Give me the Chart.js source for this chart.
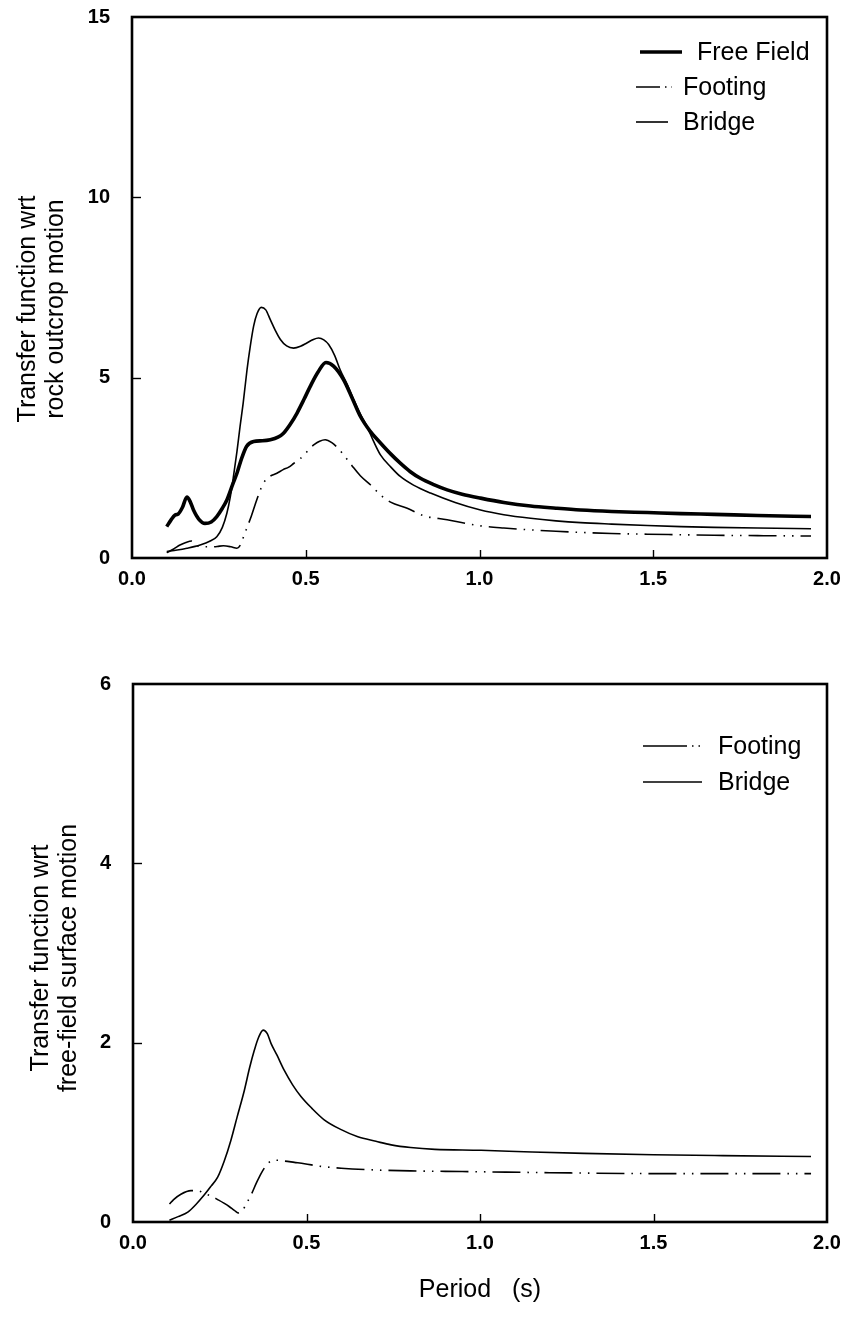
<!DOCTYPE html>
<html>
<head>
<meta charset="utf-8">
<script src="https://cdn.jsdelivr.net/npm/chart.js@4/dist/chart.umd.min.js"></script>
<style>
  html, body { margin: 0; padding: 0; background: #fff; }
  body { width: 845px; height: 1320px; position: relative; overflow: hidden; }
  .panel { position: absolute; left: 0; }
  #top { top: 0; }
  #bottom { top: 640px; }
</style>
</head>
<body>
<canvas id="top" class="panel" width="845" height="620"></canvas>
<canvas id="bottom" class="panel" width="845" height="680"></canvas>
<script>
// ---- Transfer function wrt rock outcrop motion ----
const freeFieldPeriod = [0.100,0.112,0.124,0.133,0.145,0.158,0.168,0.177,0.192,0.210,0.228,0.244,0.260,0.273,0.290,0.302,0.315,0.330,0.350,0.375,0.398,0.420,0.436,0.455,0.475,0.495,0.513,0.535,0.558,0.580,0.609,0.635,0.657,0.685,0.715,0.745,0.772,0.800,0.830,0.870,0.907,0.950,1.003,1.070,1.147,1.220,1.291,1.380,1.483,1.580,1.675,1.800,1.954];
const freeFieldRock   = [0.87,1.05,1.19,1.22,1.40,1.69,1.55,1.33,1.08,0.96,1.00,1.15,1.38,1.61,2.05,2.35,2.75,3.10,3.23,3.25,3.28,3.35,3.46,3.70,4.02,4.40,4.76,5.15,5.42,5.32,4.94,4.40,3.93,3.52,3.19,2.88,2.63,2.40,2.21,2.03,1.89,1.77,1.66,1.54,1.44,1.38,1.33,1.29,1.26,1.23,1.21,1.18,1.15];

const footingRockPeriod = [0.100,0.120,0.138,0.155,0.172,0.186,0.205,0.225,0.245,0.263,0.285,0.302,0.313,0.321,0.332,0.343,0.354,0.366,0.378,0.395,0.417,0.435,0.451,0.465,0.479,0.495,0.508,0.525,0.540,0.556,0.575,0.592,0.609,0.633,0.657,0.686,0.715,0.744,0.792,0.840,0.907,0.960,1.003,1.070,1.147,1.220,1.291,1.380,1.483,1.580,1.675,1.800,1.954];
const footingRock       = [0.15,0.25,0.36,0.43,0.47,0.35,0.31,0.31,0.32,0.34,0.31,0.27,0.38,0.59,0.87,1.15,1.47,1.80,2.07,2.25,2.35,2.45,2.52,2.62,2.72,2.85,3.00,3.15,3.24,3.28,3.20,3.05,2.86,2.56,2.28,2.03,1.75,1.55,1.38,1.17,1.06,0.96,0.89,0.83,0.78,0.74,0.71,0.68,0.66,0.645,0.63,0.62,0.61];

const bridgeRockPeriod = [0.100,0.130,0.158,0.196,0.225,0.244,0.260,0.273,0.283,0.292,0.302,0.311,0.320,0.331,0.340,0.350,0.360,0.372,0.385,0.398,0.412,0.427,0.445,0.465,0.485,0.503,0.520,0.537,0.552,0.566,0.583,0.599,0.620,0.638,0.657,0.676,0.695,0.715,0.745,0.772,0.810,0.859,0.930,1.003,1.070,1.147,1.220,1.291,1.380,1.483,1.580,1.675,1.800,1.954];
const bridgeRock       = [0.18,0.22,0.27,0.36,0.47,0.59,0.85,1.24,1.70,2.26,2.95,3.65,4.30,5.22,5.85,6.43,6.78,6.95,6.88,6.61,6.32,6.06,5.88,5.82,5.87,5.96,6.05,6.10,6.05,5.92,5.62,5.22,4.80,4.39,4.00,3.65,3.24,2.86,2.52,2.26,2.02,1.80,1.54,1.33,1.20,1.10,1.03,0.98,0.94,0.90,0.87,0.85,0.83,0.81];

// ---- Transfer function wrt free-field surface motion ----
const footingSurfacePeriod = [0.105,0.117,0.138,0.167,0.186,0.205,0.225,0.244,0.262,0.278,0.292,0.305,0.316,0.326,0.340,0.355,0.369,0.388,0.407,0.436,0.465,0.494,0.542,0.600,0.700,0.800,0.900,1.003,1.200,1.500,1.700,1.954];
const footingSurface       = [0.20,0.25,0.31,0.35,0.35,0.32,0.29,0.25,0.21,0.17,0.13,0.10,0.13,0.20,0.30,0.43,0.54,0.65,0.69,0.68,0.665,0.65,0.62,0.60,0.58,0.57,0.565,0.56,0.55,0.54,0.54,0.54];

const bridgeSurfacePeriod = [0.105,0.130,0.158,0.180,0.205,0.225,0.244,0.263,0.282,0.300,0.321,0.336,0.350,0.362,0.375,0.387,0.398,0.415,0.436,0.460,0.484,0.515,0.551,0.600,0.648,0.700,0.744,0.800,0.870,1.003,1.150,1.300,1.500,1.700,1.954];
const bridgeSurface       = [0.02,0.06,0.11,0.19,0.30,0.40,0.50,0.68,0.91,1.17,1.47,1.72,1.92,2.06,2.14,2.10,1.99,1.86,1.69,1.53,1.40,1.27,1.14,1.03,0.95,0.90,0.86,0.83,0.81,0.80,0.78,0.765,0.75,0.74,0.73];

// axis tick values
const periodTicks = [0.0, 0.5, 1.0, 1.5, 2.0];
const rockTicks = [0, 5, 10, 15];
const surfaceTicks = [0, 2, 4, 6];

const FONT = '"Liberation Sans", Arial, Helvetica, sans-serif';
const TEXT_SIZE = 25;
const TICK_SIZE = 20;
const DASH_DOT_DOT = [28, 7, 1.5, 7, 1.5, 7];

const pts = (xs, ys) => xs.map((x, i) => ({ x, y: ys[i] }));

function series(label, xs, ys, width, dash) {
  return {
    label, data: pts(xs, ys),
    borderColor: '#000', backgroundColor: '#000',
    borderWidth: width, borderDash: dash || [],
    pointRadius: 0, showLine: true, fill: false,
    cubicInterpolationMode: 'monotone', borderCapStyle: 'butt', borderJoinStyle: 'round'
  };
}

// frame, inward tick marks, rotated axis titles, legend
const decorations = {
  id: 'decorations',
  afterDraw(chart, args, o) {
    const { ctx, chartArea: a, scales: { x, y } } = chart;
    ctx.save();
    ctx.strokeStyle = '#000';
    ctx.fillStyle = '#000';
    ctx.setLineDash([]);
    ctx.lineWidth = 2.6;
    ctx.strokeRect(a.left, a.top, a.right - a.left, a.bottom - a.top);

    ctx.lineWidth = 1.4;
    x.ticks.forEach(t => {
      if (t.value <= x.min || t.value >= x.max) return;
      const px = Math.round(x.getPixelForValue(t.value)) + 0.5;
      ctx.beginPath(); ctx.moveTo(px, a.bottom); ctx.lineTo(px, a.bottom - 8); ctx.stroke();
    });
    y.ticks.forEach(t => {
      if (t.value <= y.min || t.value >= y.max) return;
      const py = Math.round(y.getPixelForValue(t.value)) + 0.5;
      ctx.beginPath(); ctx.moveTo(a.left, py); ctx.lineTo(a.left + 9, py); ctx.stroke();
    });

    ctx.font = TEXT_SIZE + 'px ' + FONT;
    ctx.textAlign = 'center';
    ctx.textBaseline = 'middle';
    o.yTitle.forEach((line, i) => {
      ctx.save();
      ctx.translate(o.yTitleX[i], o.yTitleY);
      ctx.rotate(-Math.PI / 2);
      ctx.fillText(line, 0, 0);
      ctx.restore();
    });
    if (o.xTitle) ctx.fillText(o.xTitle.text, o.xTitle.x, o.xTitle.y);

    ctx.textAlign = 'left';
    o.legend.forEach(item => {
      const ds = chart.data.datasets[item.dataset];
      ctx.lineWidth = ds.borderWidth;
      ctx.setLineDash(item.dash || ds.borderDash || []);
      ctx.beginPath(); ctx.moveTo(item.x1, item.y); ctx.lineTo(item.x2, item.y); ctx.stroke();
      ctx.setLineDash([]);
      ctx.fillText(ds.label, item.tx, item.y + 1);
    });
    ctx.restore();
  }
};

// the frame is placed by the layout padding and fixed axis sizes alone
function clearScalePadding(s) {
  s.paddingTop = 0; s.paddingBottom = 0; s.paddingLeft = 0; s.paddingRight = 0;
}

function makeChart(id, datasets, yMax, yTicksList, layout, deco) {
  return new Chart(document.getElementById(id), {
    type: 'scatter',
    data: { datasets },
    plugins: [decorations],
    options: {
      responsive: false, animation: false, events: [],
      layout: { padding: layout.padding },
      plugins: { legend: { display: false }, tooltip: { enabled: false }, decorations: deco },
      scales: {
        x: {
          type: 'linear', min: periodTicks[0], max: periodTicks[periodTicks.length - 1],
          afterBuildTicks: s => { s.ticks = periodTicks.map(v => ({ value: v })); },
          afterFit: s => { s.height = layout.xHeight; clearScalePadding(s); },
          grid: { display: false }, border: { display: false },
          ticks: { color: '#000', padding: 1, maxRotation: 0, autoSkip: false,
                   font: { family: FONT, size: TICK_SIZE, weight: 'bold' },
                   callback: v => Number(v).toFixed(1) }
        },
        y: {
          type: 'linear', min: 0, max: yMax,
          afterBuildTicks: s => { s.ticks = yTicksList.map(v => ({ value: v })); },
          afterFit: s => { s.width = layout.yWidth; clearScalePadding(s); },
          grid: { display: false }, border: { display: false },
          ticks: { color: '#000', padding: 14, autoSkip: false,
                   font: { family: FONT, size: TICK_SIZE, weight: 'bold' },
                   callback: v => String(v) }
        }
      }
    }
  });
}

makeChart('top', [
  series('Free Field', freeFieldPeriod, freeFieldRock, 3.6),
  series('Footing', footingRockPeriod, footingRock, 1.6, DASH_DOT_DOT),
  series('Bridge', bridgeRockPeriod, bridgeRock, 1.6)
], 15, rockTicks,
{ padding: { top: 17, right: 18, left: 0, bottom: 0 }, xHeight: 62, yWidth: 132 },
{
  yTitle: ['Transfer function wrt', 'rock outcrop motion'], yTitleX: [28, 56], yTitleY: 309,
  legend: [
    { dataset: 0, x1: 640, x2: 682, y: 52, tx: 697 },
    { dataset: 1, x1: 636, x2: 672, y: 87, tx: 683, dash: [24, 5, 1.5, 5, 1.5, 40] },
    { dataset: 2, x1: 636, x2: 668, y: 122, tx: 683 }
  ]
});

makeChart('bottom', [
  series('Footing', footingSurfacePeriod, footingSurface, 1.6, DASH_DOT_DOT),
  series('Bridge', bridgeSurfacePeriod, bridgeSurface, 1.6)
], 6, surfaceTicks,
{ padding: { top: 44, right: 18, left: 0, bottom: 0 }, xHeight: 98, yWidth: 133 },
{
  yTitle: ['Transfer function wrt', 'free-field surface motion'], yTitleX: [41, 69], yTitleY: 318,
  xTitle: { text: 'Period   (s)', x: 480, y: 650 },
  legend: [
    { dataset: 0, x1: 643, x2: 702, y: 106, tx: 718, dash: [44, 5, 1.5, 5, 1.5, 40] },
    { dataset: 1, x1: 643, x2: 702, y: 142, tx: 718 }
  ]
});
</script>
</body>
</html>
